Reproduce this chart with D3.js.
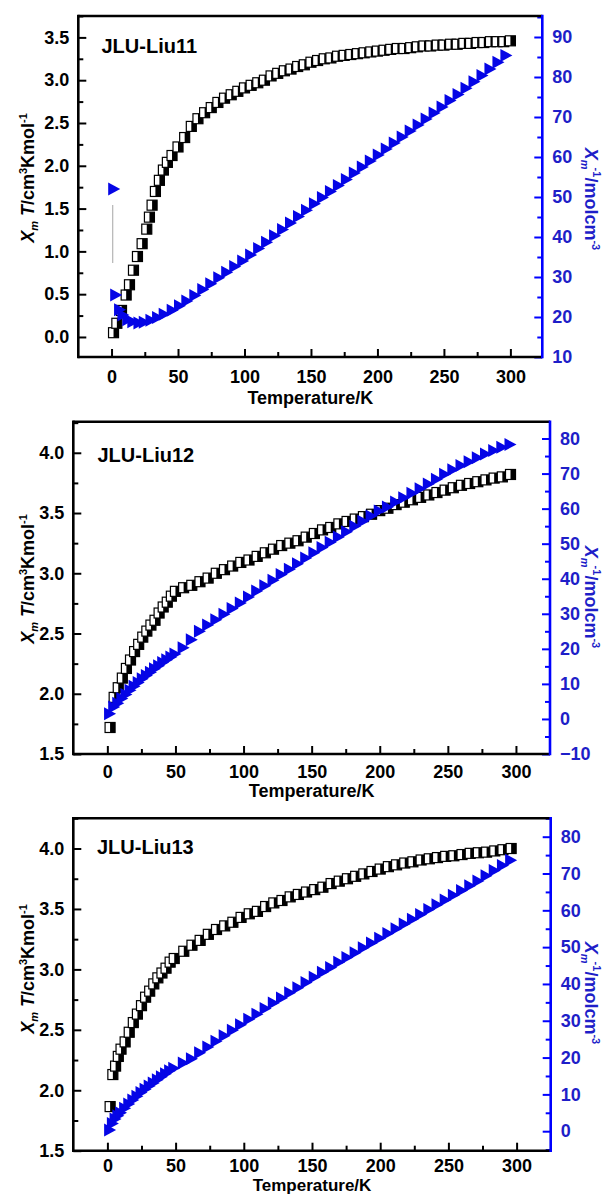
<!DOCTYPE html>
<html>
<head>
<meta charset="utf-8">
<script src="https://cdn.jsdelivr.net/npm/d3@7"></script>
<style>
  html, body { margin: 0; padding: 0; background: #fff; }
  svg text { font-family: "Liberation Sans", Arial, sans-serif; font-weight: bold; }
</style>
</head>
<body>
<svg id="chart" width="608" height="1195"></svg>
<script>
// ---------------- DATA ----------------
const xTickValues = [0, 50, 100, 150, 200, 250, 300];

// Panel 1: JLU-Liu11
const p1TempSq = [1.5, 4, 7.5, 11, 13.5, 16.5, 19.5, 23, 26.5, 28.5, 30.5, 33, 36, 39, 42, 45.5,
  50, 55, 60, 65, 70, 75, 80, 85, 90, 95, 100, 105, 110, 115, 120, 125, 130, 135, 140, 145, 150,
  155, 160, 165, 170, 175, 180, 185, 190, 195, 200, 205, 210, 215, 220, 225, 230, 235, 240, 245,
  250, 255, 260, 265, 270, 275, 280, 285, 290, 295, 300];
const p1ChiT = [0.05, 0.16, 0.31, 0.49, 0.61, 0.78, 0.94, 1.09, 1.26, 1.40, 1.54, 1.70, 1.83, 1.95, 2.04, 2.12,
  2.22, 2.33, 2.46, 2.55, 2.62, 2.68, 2.74, 2.79, 2.83, 2.87, 2.91, 2.94, 2.97, 3.00, 3.05, 3.08, 3.11, 3.13, 3.16, 3.18, 3.21,
  3.23, 3.25, 3.26, 3.28, 3.29, 3.30, 3.31, 3.32, 3.33, 3.34, 3.35, 3.36, 3.37, 3.37, 3.38, 3.39, 3.40, 3.40, 3.41,
  3.41, 3.42, 3.42, 3.43, 3.43, 3.44, 3.44, 3.45, 3.45, 3.45, 3.46];
const p1TempTri = [2, 3.5, 6.4, 8.9, 12.6, 16.4, 21, 25, 30, 35, 40, 46, 51.5, 57, 63, 69, 75, 81, 87, 93,
  99, 105, 111, 117, 123, 129, 135, 141, 147, 153, 159, 165, 171, 177, 183, 189, 195, 201, 207, 213,
  219, 225, 231, 237, 243, 249, 255, 261, 267, 273, 279, 285, 291, 297];
const p1InvChi = [52, 25.5, 21.8, 20.5, 19.3, 18.8, 18.5, 18.7, 19.2, 19.9, 20.7, 21.7, 22.8, 24.0, 25.4, 26.9, 28.3, 29.8, 31.2, 32.6,
  34.0, 35.5, 37.1, 38.7, 40.3, 41.9, 43.5, 45.1, 46.7, 48.3, 49.9, 51.4, 52.9, 54.4, 56.0, 57.5, 59.0, 60.5, 62.0, 63.5,
  65.0, 66.5, 68.0, 69.5, 71.0, 72.5, 74.1, 75.6, 77.2, 78.8, 80.4, 82.0, 83.7, 85.4];
const p1LeftTicks = [0.0, 0.5, 1.0, 1.5, 2.0, 2.5, 3.0, 3.5];
const p1RightTicks = [10, 20, 30, 40, 50, 60, 70, 80, 90];

// Panel 2: JLU-Liu12
const p2Temp = [2, 5, 8, 11, 14, 17, 20, 23, 26, 29, 32, 35, 38, 41, 44, 47, 50,
  56, 62, 68, 74, 80, 86, 92, 98, 104, 110, 116, 122, 128, 134, 140, 146, 152, 158, 164, 170,
  176, 182, 188, 194, 200, 206, 212, 218, 224, 230, 236, 242, 248, 254, 260, 266, 272, 278, 284, 290, 296];
const p2ChiT = [1.72, 1.97, 2.05, 2.13, 2.21, 2.28, 2.35, 2.41, 2.47, 2.52, 2.57, 2.61, 2.67, 2.72, 2.76, 2.81, 2.85,
  2.88, 2.90, 2.93, 2.96, 3.00, 3.03, 3.06, 3.09, 3.11, 3.14, 3.17, 3.20, 3.23, 3.25, 3.27, 3.30, 3.33, 3.36, 3.38, 3.41,
  3.43, 3.45, 3.47, 3.49, 3.52, 3.54, 3.57, 3.59, 3.61, 3.63, 3.65, 3.67, 3.69, 3.71, 3.73, 3.745, 3.76, 3.775, 3.79, 3.80, 3.82];
const p2InvChi = [1.5, 3.4, 4.5, 5.8, 7.0, 8.2, 9.3, 10.4, 11.5, 12.4, 13.3, 14.3, 15.2, 16.1, 16.9, 17.7, 18.5,
  20.3, 22.6, 25.0, 26.8, 28.3, 29.9, 31.5, 33.1, 34.8, 36.5, 38.0, 39.6, 41.2, 42.7, 44.3, 45.9, 47.4, 48.9, 50.4, 51.9,
  53.4, 55.0, 56.4, 57.9, 59.3, 60.5, 61.9, 63.1, 64.4, 65.7, 67.0, 68.4, 69.8, 71.1, 72.3, 73.4, 74.5, 75.6, 76.6, 77.5, 78.3];
const p2LeftTicks = [1.5, 2.0, 2.5, 3.0, 3.5, 4.0];
const p2RightTicks = [-10, 0, 10, 20, 30, 40, 50, 60, 70, 80];

// Panel 3: JLU-Liu13
const p3Temp = [2, 4, 6, 8, 10, 13, 16, 19, 22, 25, 28, 31, 34, 37, 40, 43, 46, 49,
  56, 62, 68, 74, 80, 86, 92, 98, 104, 110, 116, 122, 128, 134, 140, 146, 152, 158, 164, 170,
  176, 182, 188, 194, 200, 206, 212, 218, 224, 230, 236, 242, 248, 254, 260, 266, 272, 278, 284, 290, 296];
const p3ChiT = [1.865, 2.13, 2.20, 2.28, 2.34, 2.40, 2.48, 2.56, 2.63, 2.70, 2.77, 2.82, 2.88, 2.93, 2.97, 3.01, 3.06, 3.09,
  3.15, 3.20, 3.24, 3.29, 3.33, 3.36, 3.39, 3.43, 3.46, 3.48, 3.52, 3.55, 3.57, 3.60, 3.62, 3.64, 3.66, 3.68, 3.71, 3.73,
  3.75, 3.77, 3.79, 3.81, 3.83, 3.85, 3.865, 3.88, 3.89, 3.905, 3.915, 3.925, 3.935, 3.94, 3.95, 3.96, 3.965, 3.97, 3.98, 3.99, 4.00];
const p3InvChi = [0.3, 2.1, 3.3, 4.2, 5.0, 6.2, 7.4, 8.5, 9.5, 10.5, 11.4, 12.3, 13.1, 14.0, 14.8, 15.6, 16.4, 17.1,
  18.5, 19.7, 21.3, 22.9, 24.4, 25.9, 27.4, 28.9, 30.4, 31.8, 33.3, 34.8, 36.2, 37.6, 39.0, 40.4, 41.8, 43.2, 44.5, 45.9,
  47.2, 48.5, 49.8, 51.1, 52.4, 53.7, 55.0, 56.3, 57.6, 58.9, 60.2, 61.5, 62.8, 64.1, 65.4, 66.7, 68.0, 69.4, 70.8, 72.2, 73.6];
const p3LeftTicks = [1.5, 2.0, 2.5, 3.0, 3.5, 4.0];
const p3RightTicks = [0, 10, 20, 30, 40, 50, 60, 70, 80];

const panelNames = ["JLU-Liu11", "JLU-Liu12", "JLU-Liu13"];
const xTitle = "Temperature/K";

// ---------------- LAYOUT / STYLE ----------------
const BLUE = "#0505e6";
const BLUE_TEXT = "#1e1ec8";
const panels = [
  { name: panelNames[0], l: 78.3, r: 542.3, t: 16, b: 357,
    xDom: [-25, 324], yLDom: [-0.234, 3.75], yRDom: [10, 95.25],
    sqT: p1TempSq, sqV: p1ChiT, triT: p1TempTri, triV: p1InvChi,
    lTicks: p1LeftTicks, rTicks: p1RightTicks,
    xPad: 13.5, xTitleY: 404, xTitleSize: 18, lTitleCY: 178, rTitleCY: 199, nameX: 101.5, nameY: 53, guide: true },
  { name: panelNames[1], l: 73.3, r: 550, t: 421.7, b: 754,
    xDom: [-25, 325], yLDom: [1.5, 4.258], yRDom: [-10, 84.8],
    sqT: p2Temp, sqV: p2ChiT, triT: p2Temp, triV: p2InvChi,
    lTicks: p2LeftTicks, rTicks: p2RightTicks,
    xPad: 11.5, xTitleY: 797, xTitleSize: 18, lTitleCY: 579, rTitleCY: 597, nameX: 97.5, nameY: 462, guide: false },
  { name: panelNames[2], l: 73.3, r: 550.7, t: 818.3, b: 1150.7,
    xDom: [-25, 325], yLDom: [1.5, 4.25], yRDom: [-5.3, 85],
    sqT: p3Temp, sqV: p3ChiT, triT: p3Temp, triV: p3InvChi,
    lTicks: p3LeftTicks, rTicks: p3RightTicks,
    xPad: 8.5, xTitleY: 1191.2, xTitleSize: 17, lTitleCY: 969, rTitleCY: 993, nameX: 97, nameY: 854, guide: false }
];

const svg = d3.select("#chart");
svg.append("rect").attr("width", 608).attr("height", 1195).attr("fill", "#fff");

function midpoints(arr, step, dom) {
  const out = [];
  const lo = Math.min(dom[0], dom[1]), hi = Math.max(dom[0], dom[1]);
  for (let i = 0; i <= arr.length; i++) {
    const v = (i === 0) ? arr[0] - step / 2 : arr[i - 1] + step / 2;
    if (v >= lo - 1e-9 && v <= hi + 1e-9) out.push(v);
  }
  return out;
}

function styleAxis(g, color, fontSize) {
  g.select(".domain").remove();
  g.selectAll(".tick line").attr("stroke", color).attr("stroke-width", 2);
  g.selectAll(".tick text").attr("fill", color === "#000" ? "#000" : BLUE_TEXT)
    .attr("font-size", fontSize).attr("font-family", "Liberation Sans, Arial, sans-serif")
    .attr("font-weight", "bold");
}

panels.forEach(p => {
  const x = d3.scaleLinear().domain(p.xDom).range([p.l, p.r]);
  const yL = d3.scaleLinear().domain(p.yLDom).range([p.b, p.t]);
  const yR = d3.scaleLinear().domain(p.yRDom).range([p.b, p.t]);
  const g = svg.append("g");

  // minor ticks
  const xMinor = midpoints(xTickValues, 50, p.xDom).filter(v => v > 0 && v < 300);
  g.append("g").attr("transform", `translate(0,${p.b})`)
    .call(d3.axisBottom(x).tickValues(xMinor).tickSize(-5).tickFormat(""))
    .call(a => styleAxis(a, "#000", 18));
  g.append("g").attr("transform", `translate(${p.l},0)`)
    .call(d3.axisLeft(yL).tickValues(midpoints(p.lTicks, 0.5, p.yLDom)).tickSize(-5).tickFormat(""))
    .call(a => styleAxis(a, "#000", 18));
  g.append("g").attr("transform", `translate(${p.r},0)`)
    .call(d3.axisRight(yR).tickValues(midpoints(p.rTicks, 10, p.yRDom)).tickSize(-5).tickFormat(""))
    .call(a => styleAxis(a, "#0000ff", 18));

  // major ticks + labels
  g.append("g").attr("transform", `translate(0,${p.b})`)
    .call(d3.axisBottom(x).tickValues(xTickValues).tickSize(-8).tickPadding(p.xPad).tickFormat(d3.format("d")))
    .call(a => styleAxis(a, "#000", 18));
  g.append("g").attr("transform", `translate(${p.l},0)`)
    .call(d3.axisLeft(yL).tickValues(p.lTicks).tickSize(-8).tickPadding(9).tickFormat(d3.format(".1f")))
    .call(a => styleAxis(a, "#000", 18));
  g.append("g").attr("transform", `translate(${p.r},0)`)
    .call(d3.axisRight(yR).tickValues(p.rTicks).tickSize(-8).tickPadding(10).tickFormat(d3.format("d")))
    .call(a => styleAxis(a, "#0000ff", 18));

  // frame
  g.append("line").attr("x1", p.l).attr("x2", p.r).attr("y1", p.t).attr("y2", p.t)
    .attr("stroke", "#000").attr("stroke-width", 2.6);
  g.append("line").attr("x1", p.l).attr("x2", p.r).attr("y1", p.b).attr("y2", p.b)
    .attr("stroke", "#000").attr("stroke-width", 2.6);
  g.append("line").attr("x1", p.l).attr("x2", p.l).attr("y1", p.t - 1.3).attr("y2", p.b + 1.3)
    .attr("stroke", "#000").attr("stroke-width", 2.6);
  g.append("line").attr("x1", p.r).attr("x2", p.r).attr("y1", p.t - 1.3).attr("y2", p.b + 1.3)
    .attr("stroke", "#0000ff").attr("stroke-width", 2.6);

  // faint guide line between the first two inverse-susceptibility points (panel 1)
  if (p.guide) {
    const x0 = x(p.triT[0]) - 1.5, y0 = yR(p.triV[0]), y1 = yR(p.triV[1]);
    g.append("line").attr("x1", x0).attr("x2", x0).attr("y1", y0 + 16).attr("y2", y1 - 32)
      .attr("stroke", "#b4b4b4").attr("stroke-width", 1.2);
  }

  // half-filled squares (chi_m T)
  const sq = g.append("g");
  const S = 10;
  p.sqT.forEach((t, i) => {
    const cx = x(t), cy = yL(p.sqV[i]);
    sq.append("rect").attr("x", cx - S / 2).attr("y", cy - S / 2).attr("width", S).attr("height", S)
      .attr("fill", "#fff").attr("stroke", "#000").attr("stroke-width", 1.2);
    sq.append("rect").attr("x", cx).attr("y", cy - S / 2).attr("width", S / 2).attr("height", S)
      .attr("fill", "#000");
  });

  // right-pointing filled triangles (1/chi_m)
  const tri = g.append("g");
  const tw = 12, th = 13;
  tri.selectAll("path").data(p.triT.map((t, i) => [t, p.triV[i]])).join("path")
    .attr("d", d => {
      const cx = x(d[0]), cy = yR(d[1]);
      return `M${cx - tw / 2},${cy - th / 2}L${cx + tw / 2},${cy}L${cx - tw / 2},${cy + th / 2}Z`;
    })
    .attr("fill", BLUE);

  // panel name
  g.append("text").attr("x", p.nameX).attr("y", p.nameY).attr("font-size", 20).attr("fill", "#000")
    .text(p.name);

  // x title
  g.append("text").attr("x", (p.l + p.r) / 2).attr("y", p.xTitleY).attr("text-anchor", "middle")
    .attr("font-size", p.xTitleSize).attr("fill", "#000").text(xTitle);

  // left y title: X_m T/cm^3Kmol^-1
  const lt = g.append("text").attr("transform", `translate(34,${p.lTitleCY}) rotate(-90)`)
    .attr("text-anchor", "middle").attr("font-size", 18).attr("fill", "#000");
  lt.append("tspan").attr("font-style", "italic").text("X");
  lt.append("tspan").attr("font-style", "italic").attr("font-size", 11).attr("dy", 4).text("m");
  lt.append("tspan").attr("font-style", "italic").attr("dy", -4).text(" T");
  lt.append("tspan").text("/cm");
  lt.append("tspan").attr("font-size", 11).attr("dy", -7).text("3");
  lt.append("tspan").attr("dy", 7).text("Kmol");
  lt.append("tspan").attr("font-size", 11).attr("dy", -7).text("-1");

  // right y title: X_m^-1/molcm^-3
  const rt = g.append("text").attr("transform", `translate(585,${p.rTitleCY}) rotate(90)`)
    .attr("text-anchor", "middle").attr("font-size", 18).attr("fill", BLUE_TEXT);
  rt.append("tspan").attr("font-style", "italic").text("X");
  rt.append("tspan").attr("font-style", "italic").attr("font-size", 11).attr("dy", 4).text("m");
  rt.append("tspan").attr("font-size", 11).attr("dy", -12).attr("dx", -2).text("-1");
  rt.append("tspan").attr("dy", 8).text("/molcm");
  rt.append("tspan").attr("font-size", 11).attr("dy", -7).text("-3");
});
</script>
</body>
</html>
